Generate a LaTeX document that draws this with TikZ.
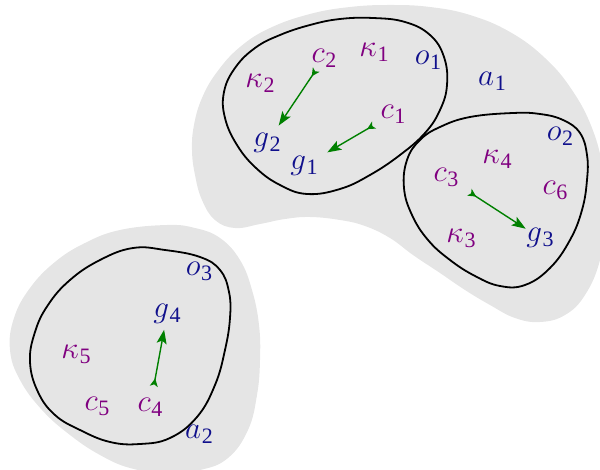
\documentclass[tikz,border=0pt]{standalone}
\usepackage{graphicx}
\usepackage{fontspec}
\setmainfont{Liberation Serif}
\usetikzlibrary{arrows.meta}
\definecolor{lpurple}{RGB}{128,0,128}
\definecolor{lblue}{RGB}{16,16,140}
\definecolor{lgreen}{RGB}{0,128,0}
\definecolor{lgrey}{RGB}{229,229,229}
\newcommand{\lab}[2]{\scalebox{1.25}{$#1$}\kern0.03em\raisebox{-0.2em}{\fontsize{22}{24}\selectfont #2}}
\begin{document}
\begin{tikzpicture}[x=1pt,y=-1pt,
  lbl/.style={inner sep=0pt, font=\fontsize{24.88}{27}\selectfont},
  pl/.style={lbl,text=lpurple},
  bl/.style={lbl,text=lblue},
  arr/.style={draw=lgreen, line width=1.4pt,
    arrows={Stealth[reversed,length=8pt,width=8pt,inset=2pt]-Stealth[length=14pt,width=10pt,inset=3pt]}},
  loopline/.style={draw=black, line width=1.8pt},
  blob/.style={fill=lgrey}]
\useasboundingbox (0,0) rectangle (600,470);
% grey blobs
\fill[blob] plot[smooth cycle, tension=0.7] coordinates {
  (390,5) (430,7) (470,15) (510,32) (545,58) (572,90) (592,128) (603,170)
  (606,215) (600,260) (585,295) (565,315) (540,322) (515,318) (490,305)
  (465,290) (440,273) (413,255) (390,238) (365,226) (340,220) (310,217)
  (285,219) (260,224) (235,228) (215,220) (202,200) (195,175) (192,150)
  (194,125) (202,98) (217,72) (240,47) (270,28) (310,14) (350,7)};
\fill[blob] plot[smooth cycle, tension=0.7] coordinates {
  (167,225) (195,228) (220,238) (240,260) (252,290) (259,325) (260,360)
  (257,395) (248,430) (228,458) (200,470) (165,473) (130,468) (100,455)
  (70,435) (42,410) (20,380) (10,350) (14,318) (30,288) (55,262) (85,243)
  (120,230)};
% black loops
\draw[loopline] plot[smooth cycle, tension=0.7] coordinates {
  (373,18) (405,22) (430,35) (444,57) (447,85) (440,110) (425,133)
  (400,155) (370,175) (340,189) (307,194) (280,185) (256,168) (237,145)
  (225,118) (224,92) (235,68) (255,48) (280,35) (310,25) (340,19)};
\draw[loopline] plot[smooth cycle, tension=0.7] coordinates {
  (513,113) (540,114) (563,120) (580,133) (587,155) (587,180) (582,210)
  (570,240) (550,268) (525,285) (500,286) (475,276) (450,260) (428,240)
  (412,215) (404,188) (407,160) (420,140) (440,127) (470,117)};
\draw[loopline] plot[smooth cycle, tension=0.7] coordinates {
  (133,248) (165,250) (200,257) (220,270) (229,292) (230,318) (225,350)
  (215,385) (197,417) (170,438) (140,444) (110,442) (80,430) (55,415)
  (38,392) (30,362) (35,332) (48,305) (70,280) (100,260)};
% labels
\node[pl] (c2) at (324,58) {\lab{c}{2}};
\node[pl] (k1) at (374,52) {\lab{\kappa}{1}};
\node[bl] (o1) at (428,60) {\lab{o}{1}};
\node[bl] (a1) at (492,81) {\lab{a}{1}};
\node[pl] (k2) at (260,83) {\lab{\kappa}{2}};
\node[pl] (c1) at (393,114) {\lab{c}{1}};
\node[bl] (g2) at (267,143) {\lab{g}{2}};
\node[bl] (g1) at (304,166) {\lab{g}{1}};
\node[bl] (o2) at (560,136) {\lab{o}{2}};
\node[pl] (k4) at (497,159) {\lab{\kappa}{4}};
\node[pl] (c3) at (446,177) {\lab{c}{3}};
\node[pl] (c6) at (555,190) {\lab{c}{6}};
\node[pl] (k3) at (461,238) {\lab{\kappa}{3}};
\node[bl] (g3) at (540,238) {\lab{g}{3}};
\node[bl] (o3) at (199,271) {\lab{o}{3}};
\node[bl] (g4) at (167,314) {\lab{g}{4}};
\node[pl] (k5) at (76,354) {\lab{\kappa}{5}};
\node[pl] (c5) at (97,406) {\lab{c}{5}};
\node[pl] (c4) at (150,407) {\lab{c}{4}};
\node[bl] (a2) at (199,434) {\lab{a}{2}};
% arrows
\draw[arr, shorten <=14pt, shorten >=21pt] (c2.center) -- (g2.center);
\draw[arr, shorten <=22pt, shorten >=27pt] (c1.center) -- (g1.center);
\draw[arr, shorten <=28pt, shorten >=17pt] (c3.center) -- (g3.center);
\draw[arr, shorten <=21pt, shorten >=16pt] (c4.center) -- (g4.center);
\end{tikzpicture}
\end{document}
